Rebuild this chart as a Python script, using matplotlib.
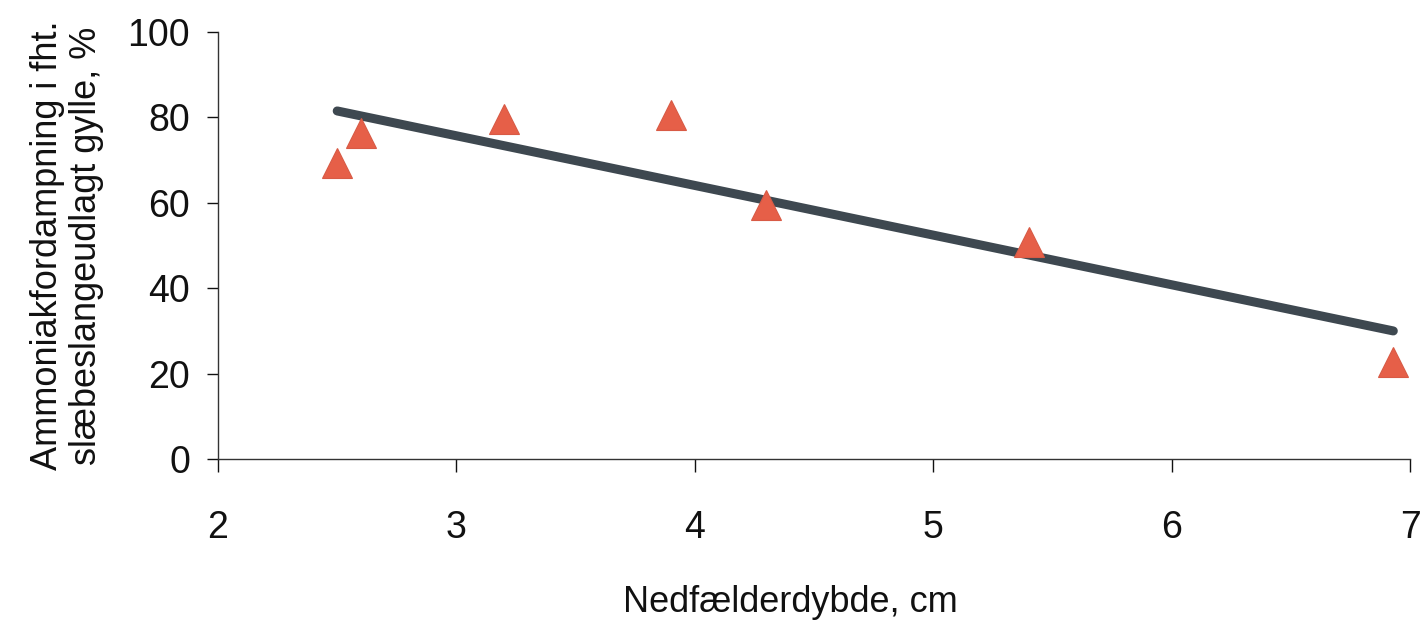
import numpy as np
import matplotlib
matplotlib.use("Agg")
import matplotlib.pyplot as plt

plt.rcParams['font.family'] = ['Liberation Sans', 'DejaVu Sans']

depth_cm = [2.5, 2.6, 3.2, 3.9, 4.3, 5.4, 6.93]
emission_pct = [69.3, 76.3, 79.6, 80.6, 59.5, 50.8, 22.7]
x_ticks = [2, 3, 4, 5, 6, 7]
y_ticks = [0, 20, 40, 60, 80, 100]

fig = plt.figure(figsize=(14.22, 6.21), dpi=100)
ax = fig.add_axes([218/1422, 1-459/621, (1410-218)/1422, (459-32)/621])

# linear trend line
coef = np.polyfit(depth_cm, emission_pct, 1)
tx = np.array([min(depth_cm), max(depth_cm)])
ax.plot(tx, np.polyval(coef, tx), color='#3e4850', lw=6.5, solid_capstyle='round', zorder=2)

ax.plot(depth_cm, emission_pct, linestyle='none', marker='^', markersize=21,
        markerfacecolor='#e65f48', markeredgecolor='#d85a45', markeredgewidth=0.8, zorder=3)

ax.set_xlim(2, 7)
ax.set_ylim(0, 100)
ax.set_xticks(x_ticks)
ax.set_yticks(y_ticks)
for s in ['top', 'right']:
    ax.spines[s].set_visible(False)
for s in ['left', 'bottom']:
    ax.spines[s].set_linewidth(1.0)
    ax.spines[s].set_color('#333333')
ax.tick_params(axis='y', direction='out', length=8, width=1, pad=12, labelsize=27, colors='#111111')
ax.tick_params(axis='x', direction='out', length=9, width=1, pad=28, labelsize=27, colors='#111111')

ax.set_xlabel('Nedfælderdybde, cm', fontsize=26, color='#111111')
ax.xaxis.set_label_coords((790-218)/(1410-218), -(603-459)/(459-32), transform=ax.transAxes)
ax.xaxis.label.set_va('center')
ax.set_ylabel('Ammoniakfordampning i fht.\nslæbeslangeudlagt gylle, %', fontsize=26, color='#111111',
              linespacing=1.15)
ax.yaxis.set_label_coords(-(218-67)/(1410-218), 0.5, transform=ax.transAxes)
ax.yaxis.label.set_va('center')

fig.savefig('out.png', dpi=100, facecolor='white')
